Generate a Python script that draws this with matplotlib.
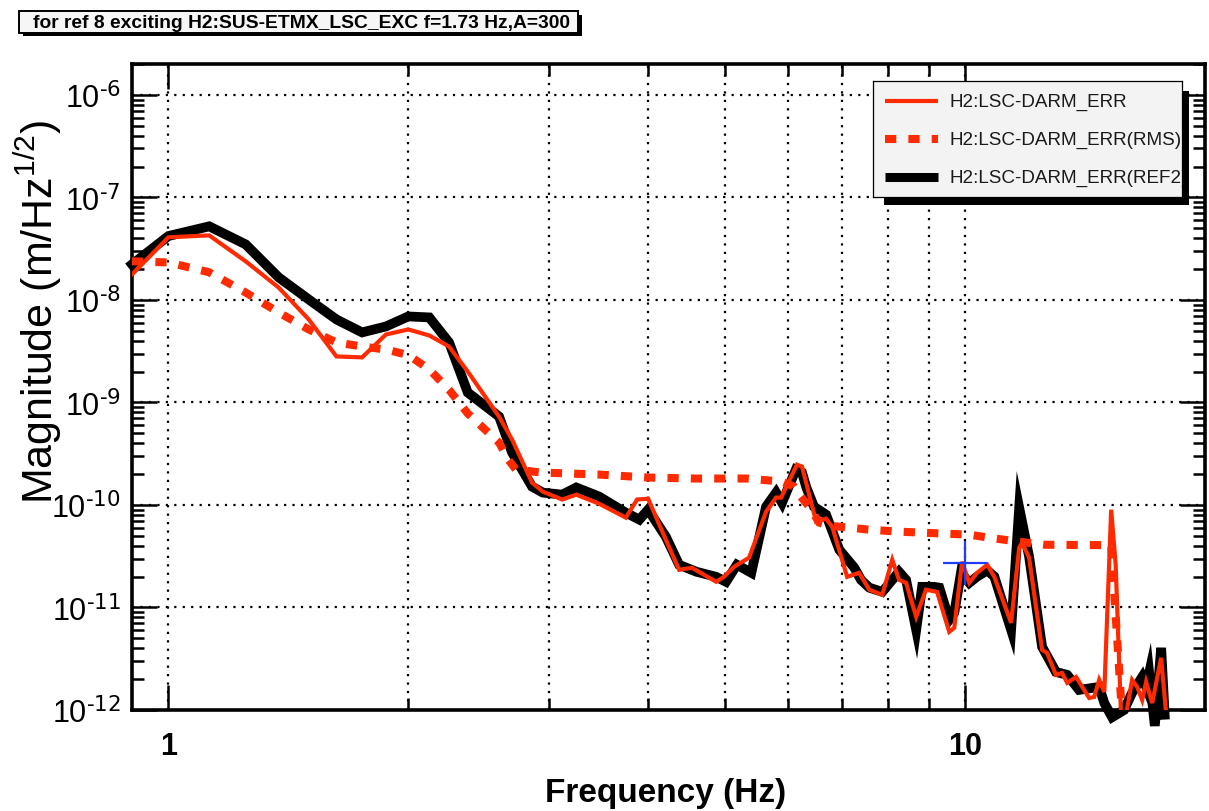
import math
import matplotlib
matplotlib.use("Agg")
import matplotlib.pyplot as plt
from matplotlib.ticker import FixedLocator, FixedFormatter, NullFormatter, LogLocator, FuncFormatter
from matplotlib.patches import Rectangle

plt.rcParams['font.family'] = ['Liberation Sans', 'DejaVu Sans']
plt.rcParams['mathtext.default'] = 'regular'

# ---- data -------------------------------------------------------------
freq_err = [0.9, 1.0, 1.125, 1.25, 1.375, 1.5, 1.625, 1.75, 1.875, 2.0, 2.125, 2.25, 2.375,
            2.6, 2.7, 2.86, 2.95, 3.12, 3.25, 3.47, 3.75, 3.875, 4.0, 4.21, 4.375, 4.54,
            4.87, 4.98, 5.13, 5.355, 5.625, 5.79, 5.875, 6.15, 6.24, 6.5, 6.69, 6.81, 7.11,
            7.36, 7.58, 7.87, 8.1, 8.26, 8.43, 8.68, 8.93, 9.22, 9.55, 9.69, 9.91, 10.12,
            10.35, 10.66, 10.88, 11.42, 11.69, 11.79, 12.03, 12.49, 12.67, 13.0, 13.23,
            13.43, 13.78, 14.31, 14.52, 14.73, 14.95, 15.25, 15.45, 15.69, 15.92, 16.2,
            16.44, 16.68, 16.87, 17.17, 17.62, 17.88]
mag_err = [1.77e-8, 4.08e-8, 4.26e-8, 2.38e-8, 1.32e-8, 6.45e-9, 2.81e-9, 2.75e-9, 4.60e-9,
           5.15e-9, 4.50e-9, 3.51e-9, 2.0e-9, 7.28e-10, 4.34e-10, 1.65e-10, 1.35e-10,
           1.13e-10, 1.26e-10, 1.03e-10, 7.52e-11, 1.13e-10, 1.15e-10, 4.58e-11, 2.33e-11,
           2.44e-11, 1.78e-11, 1.99e-11, 2.50e-11, 3.06e-11, 8.60e-11, 1.18e-10, 1.18e-10,
           2.47e-10, 2.37e-10, 6.87e-11, 7.35e-11, 6.14e-11, 1.99e-11, 2.18e-11, 1.49e-11,
           1.33e-11, 2.92e-11, 1.86e-11, 1.74e-11, 8.11e-12, 1.49e-11, 1.42e-11, 5.79e-12,
           6.33e-12, 2.79e-11, 1.74e-11, 2.18e-11, 2.61e-11, 1.99e-11, 7.09e-12, 3.83e-11,
           4.28e-11, 3.06e-11, 3.86e-12, 3.61e-12, 2.20e-12, 2.30e-12, 1.84e-12, 2.10e-12,
           1.31e-12, 1.34e-12, 1.97e-12, 1.50e-12, 8.99e-11, 2.6e-11, 9e-13, 9e-13,
           1.97e-12, 1.68e-12, 1.25e-12, 1.88e-12, 1.17e-12, 3.23e-12, 9e-13]

freq_rms = [0.9, 1.0, 1.125, 1.25, 1.375, 1.5, 1.625, 1.75, 1.875, 2.0, 2.125, 2.25, 2.375,
            2.6, 2.67, 2.73, 2.94, 3.47, 4.0, 4.6, 5.32, 5.89, 6.1, 6.19, 6.37, 6.56, 6.75,
            7.58, 8.26, 10.12, 10.72, 11.69, 12.6, 15.25, 15.75]
mag_rms = [2.38e-8, 2.32e-8, 1.86e-8, 1.18e-8, 7.55e-9, 5.15e-9, 3.85e-9, 3.51e-9, 3.28e-9,
           2.9e-9, 2.1e-9, 1.33e-9, 7.8e-10, 4.06e-10, 2.77e-10, 2.21e-10, 2.07e-10,
           1.98e-10, 1.85e-10, 1.81e-10, 1.81e-10, 1.69e-10, 1.51e-10, 1.26e-10, 9.62e-11,
           6.72e-11, 6.28e-11, 5.74e-11, 5.49e-11, 5.13e-11, 4.79e-11, 4.38e-11, 4.09e-11,
           4.05e-11, 8e-13]

freq_ref = [0.9, 1.0, 1.125, 1.25, 1.375, 1.5, 1.625, 1.75, 1.875, 2.0, 2.125, 2.25, 2.375,
            2.6, 2.7, 2.86, 2.95, 3.12, 3.25, 3.47, 3.75, 3.9, 4.0, 4.21, 4.375, 4.6, 4.87,
            5.01, 5.17, 5.39, 5.625, 5.79, 5.89, 6.13, 6.24, 6.32, 6.46, 6.69, 6.95, 7.26,
            7.4, 7.58, 7.87, 8.1, 8.26, 8.43, 8.68, 8.83, 9.14, 9.28, 9.55, 9.69, 9.88,
            10.12, 10.35, 10.66, 10.88, 11.42, 11.69, 12.03, 12.49, 13.0, 13.43, 13.9,
            14.73, 14.95, 15.29, 15.83, 16.2, 16.68, 16.87, 17.02, 17.3, 17.62, 17.8]
mag_ref = [2.22e-8, 4.2e-8, 5.22e-8, 3.48e-8, 1.66e-8, 1.01e-8, 6.45e-9, 4.82e-9, 5.51e-9,
           6.90e-9, 6.75e-9, 3.85e-9, 1.25e-9, 7.28e-10, 3.24e-10, 1.51e-10, 1.32e-10,
           1.26e-10, 1.48e-10, 1.21e-10, 8.41e-11, 7.19e-11, 9.0e-11, 4.90e-11, 2.61e-11,
           2.23e-11, 1.99e-11, 1.78e-11, 2.61e-11, 2.18e-11, 9.62e-11, 1.32e-10, 1.05e-10,
           2.21e-10, 2.07e-10, 1.48e-10, 9.62e-11, 8.04e-11, 3.66e-11, 2.44e-11, 1.86e-11,
           1.56e-11, 1.42e-11, 1.86e-11, 2.23e-11, 1.86e-11, 6.05e-12, 1.59e-11, 1.59e-11,
           1.56e-11, 7.58e-12, 8.87e-12, 2.18e-11, 1.74e-11, 2.0e-11, 2.3e-11, 2.0e-11,
           6.05e-12, 9.41e-11, 3.13e-11, 4.13e-12, 2.35e-12, 2.20e-12, 1.57e-12, 1.68e-12,
           1.17e-12, 8.5e-13, 1.0e-12, 1.47e-12, 2.10e-12, 1.68e-12, 2.30e-12, 7.0e-13,
           4.04e-12, 9e-13]

exc_freq = [10.0]
exc_mag = [2.73e-11]

x_limits = (0.9, 20.0)
y_limits = (1e-12, 2e-6)
x_major_ticks = [1, 10]
x_major_labels = ['1', '10']
x_minor_ticks = [2, 3, 4, 5, 6, 7, 8, 9]
y_decades = [-12, -11, -10, -9, -8, -7, -6]

title_text = 'for ref 8 exciting H2:SUS-ETMX_LSC_EXC f=1.73 Hz,A=300'
legend_labels = ['H2:LSC-DARM_ERR', 'H2:LSC-DARM_ERR(RMS)', 'H2:LSC-DARM_ERR(REF2)']
x_label = 'Frequency (Hz)'
y_label = 'Magnitude (m/Hz$^{1/2}$)'

RED = '#ff2a00'
BLUE = '#1f3cff'

# ---- figure -------------------------------------------------------------
W, H, DPI = 1209, 812, 100
fig = plt.figure(figsize=(W / DPI, H / DPI), dpi=DPI)


def fig_rect(x0, y0, x1, y1):
    """Pixel box (top-left origin) -> figure-fraction rectangle."""
    return [x0 / W, 1 - y1 / H, (x1 - x0) / W, (y1 - y0) / H]


def decade_label(v, pos):
    # plain hyphen in the exponent, as in the instrument's own plots
    return r'$10^{\text{-%d}}$' % abs(round(math.log10(v)))


ax = fig.add_axes(fig_rect(132, 65, 1205, 711))
ax.set_xscale('log')
ax.set_yscale('log')
ax.set_xlim(*x_limits)
ax.set_ylim(*y_limits)

ax.xaxis.set_major_locator(FixedLocator(x_major_ticks))
ax.xaxis.set_major_formatter(FixedFormatter(x_major_labels))
ax.xaxis.set_minor_locator(FixedLocator(x_minor_ticks))
ax.xaxis.set_minor_formatter(NullFormatter())
ax.yaxis.set_major_locator(FixedLocator([10.0 ** e for e in y_decades]))
ax.yaxis.set_major_formatter(FuncFormatter(decade_label))
ax.yaxis.set_minor_locator(LogLocator(base=10, subs=range(2, 10), numticks=100))
ax.yaxis.set_minor_formatter(NullFormatter())

ax.tick_params(which='both', direction='in', top=True, right=True, width=1.8, color='black')
ax.tick_params(which='major', length=18)
ax.tick_params(which='minor', length=8.5)
ax.tick_params(axis='x', which='major', labelsize=22, pad=15)
ax.tick_params(axis='y', which='major', labelsize=22, pad=8)
for lab in ax.get_xticklabels():
    lab.set_fontweight('bold')

for sp in ax.spines.values():
    sp.set_linewidth(2.6)

grid_kw = dict(color='black', linestyle=(0, (1, 2.8)), linewidth=1.6)
ax.xaxis.grid(True, which='both', **grid_kw)
ax.yaxis.grid(True, which='major', **grid_kw)

ax.plot(freq_ref, mag_ref, color='black', lw=7, solid_joinstyle='miter', clip_on=False, zorder=2)
ax.plot(freq_rms, mag_rms, color=RED, lw=5.8, dashes=(1.4, 1.5), dash_capstyle='butt',
        dash_joinstyle='miter', zorder=3)
ax.plot(freq_err, mag_err, color=RED, lw=3, solid_joinstyle='miter', zorder=4)
ax.plot(exc_freq, exc_mag, linestyle='none', marker='+', ms=31, mew=1.6, color=BLUE, zorder=5)

# axis titles
fig.text(666 / W, 1 - 794 / H, x_label, fontsize=24, fontweight='bold', ha='center', va='center')
fig.text(38 / W, 1 - 312 / H, y_label, fontsize=31, rotation=90, ha='center', va='center')

# title box with drop shadow
r = fig_rect(23, 16, 582, 37)
fig.patches.append(Rectangle((r[0], r[1]), r[2], r[3], transform=fig.transFigure,
                             facecolor='black', edgecolor='none', zorder=1))
r = fig_rect(19, 12, 578, 34)
fig.patches.append(Rectangle((r[0], r[1]), r[2], r[3], transform=fig.transFigure,
                             facecolor='#f6f6f6', edgecolor='black', lw=1.4, zorder=1.1))
fig.text(33 / W, 1 - 23.5 / H, title_text, fontsize=13.9, fontweight='bold', ha='left',
         va='center', zorder=1.2)

# legend panel with drop shadow
r = fig_rect(884, 92, 1189, 206)
fig.patches.append(Rectangle((r[0], r[1]), r[2], r[3], transform=fig.transFigure,
                             facecolor='black', edgecolor='none', zorder=1))
leg = fig.add_axes(fig_rect(873, 82, 1182, 198))
leg.set_zorder(3)
leg.set_facecolor('#f3f3f3')
leg.set_xlim(0, 309)
leg.set_ylim(116, 0)
leg.set_xticks([])
leg.set_yticks([])
for sp in leg.spines.values():
    sp.set_linewidth(0.9)
row_y = [20, 58, 96]
leg.plot([12, 65], [row_y[0]] * 2, color=RED, lw=3, solid_capstyle='butt')
leg.plot([12, 65], [row_y[1]] * 2, color=RED, lw=5.8, dashes=(1.4, 1.5), dash_capstyle='butt')
leg.plot([12, 65], [row_y[2]] * 2, color='black', lw=6.5, solid_capstyle='butt')
for yy, lab in zip(row_y, legend_labels):
    leg.text(76, yy, lab, fontsize=13.6, ha='left', va='center', color='#1a1a1a', clip_on=True)

fig.savefig('out.png', dpi=DPI)
